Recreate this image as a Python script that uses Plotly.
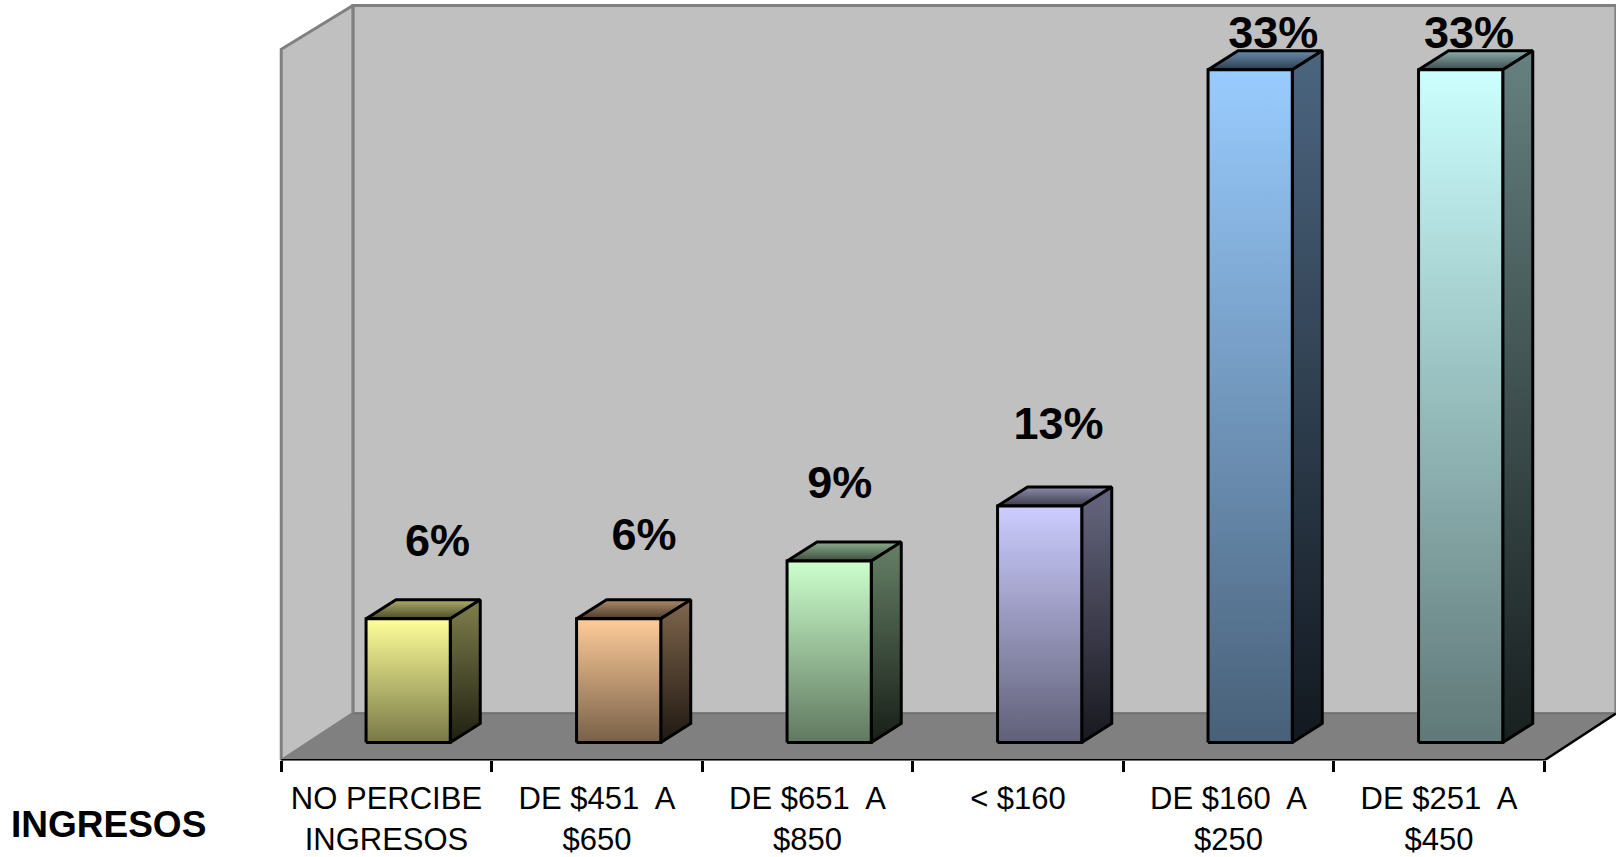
import plotly.graph_objects as go

# --- data ---
categories = ["NO PERCIBE<br>INGRESOS", "DE $451  A<br>$650", "DE $651  A<br>$850",
              "< $160", "DE $160  A<br>$250", "DE $251  A<br>$450"]
bar_heights = [6.07, 6.07, 8.9, 11.6, 33.0, 33.0]
value_labels = ["6%", "6%", "9%", "13%", "33%", "33%"]
axis_title = "INGRESOS"

# --- styles and geometry ---
bar_colors = [(255, 255, 153), (255, 204, 153), (204, 255, 204),
              (204, 204, 255), (153, 204, 255), (204, 255, 255)]
label_dx = [0.14, 0.12, 0.05, 0.09, 0.11, 0.04]   # label offset from the front-face centre (categories)
label_dy = [3.65, 3.9, 3.65, 3.85, 1.63, 1.63]    # label offset above the bar top (value units)

BAR_WIDTH = 0.40
BAR_SHIFT = 0.103
BAR_DX, BAR_DY = 0.1425, 0.93
WALL_DX, WALL_DY = 0.3405, 2.3
FLOOR_Y = -0.88
WALL_TOP_BACK = 36.15
WALL_TOP_FRONT = 34.0
EDGES = [i - 0.5 for i in range(len(categories) + 1)]
X_RANGE = [-1.836, 5.841]
Y_RANGE = [FLOOR_Y, 36.42]

W, H = 1616, 857
FLOOR_PX = 764


def scaled(c, f):
    return "rgb(%d,%d,%d)" % tuple(round(v * f) for v in c)


def poly(xs, ys, fill, line_color=None, line_width=0, gradient=None):
    tr = dict(x=xs + xs[:1], y=ys + ys[:1], mode="lines", fill="toself", hoverinfo="skip",
              showlegend=False,
              line=dict(color=line_color or "rgba(0,0,0,0)", width=line_width))
    if gradient:
        bottom, top = gradient
        tr["fillgradient"] = dict(type="vertical", colorscale=[[0, bottom], [1, top]])
    else:
        tr["fillcolor"] = fill
    return go.Scatter(**tr)


fig = go.Figure()
L, R = EDGES[0], EDGES[-1]

# floor
fig.add_trace(poly([L, R, R + WALL_DX, L + WALL_DX],
                   [FLOOR_Y, FLOOR_Y, FLOOR_Y + WALL_DY, FLOOR_Y + WALL_DY], "#808080"))
# back wall
fig.add_trace(poly([L + WALL_DX, R + WALL_DX, R + WALL_DX, L + WALL_DX],
                   [FLOOR_Y + WALL_DY, FLOOR_Y + WALL_DY, WALL_TOP_BACK, WALL_TOP_BACK],
                   "#c0c0c0", "#808080", 3))
# left wall
fig.add_trace(poly([L, L + WALL_DX, L + WALL_DX, L],
                   [FLOOR_Y, FLOOR_Y + WALL_DY, WALL_TOP_BACK, WALL_TOP_FRONT],
                   "#c0c0c0", "#808080", 3))
# seam between the back wall and the floor
fig.add_trace(go.Scatter(x=[L + WALL_DX, R + WALL_DX], y=[FLOOR_Y + WALL_DY] * 2, mode="lines",
                         line=dict(color="#707070", width=1.5), hoverinfo="skip", showlegend=False))
# edge of the floor on the right
fig.add_trace(go.Scatter(x=[R, R + WALL_DX], y=[FLOOR_Y, FLOOR_Y + WALL_DY], mode="lines",
                         line=dict(color="black", width=2.5), hoverinfo="skip", showlegend=False))

# bars
for i, (v, c) in enumerate(zip(bar_heights, bar_colors)):
    x0 = i + BAR_SHIFT - BAR_WIDTH / 2
    x1 = x0 + BAR_WIDTH
    fig.add_trace(poly([x0, x1, x1 + BAR_DX, x0 + BAR_DX], [v, v, v + BAR_DY, v + BAR_DY], None,
                       "black", 3, (scaled(c, 0.30), scaled(c, 0.68))))
    fig.add_trace(poly([x1, x1 + BAR_DX, x1 + BAR_DX, x1], [0, BAR_DY, v + BAR_DY, v], None,
                       "black", 3, (scaled(c, 0.12), scaled(c, 0.5))))
    fig.add_trace(poly([x0, x1, x1, x0], [0, 0, v, v], None,
                       "black", 3, (scaled(c, 0.47), scaled(c, 1.0))))

# value labels (on the second x axis, which carries the category labels)
fig.add_trace(go.Scatter(
    x=[i + BAR_SHIFT + d for i, d in enumerate(label_dx)],
    y=[v + d for v, d in zip(bar_heights, label_dy)],
    text=value_labels, mode="text", textposition="middle center", xaxis="x2",
    textfont=dict(family="Liberation Sans", size=45, color="black"),
    texttemplate="<b>%{text}</b>", hoverinfo="skip", showlegend=False, cliponaxis=False))

fig.update_layout(
    width=W, height=H, margin=dict(l=0, r=0, t=0, b=0),
    paper_bgcolor="white", plot_bgcolor="white", showlegend=False,
    xaxis=dict(range=X_RANGE, domain=[0, 1], anchor="y", showgrid=False, zeroline=False,
               tickmode="array", tickvals=EDGES, ticktext=[""] * len(EDGES), ticks="outside",
               ticklen=11, tickwidth=2.5, tickcolor="black"),
    xaxis2=dict(range=X_RANGE, domain=[0, 1], anchor="y", overlaying="x", side="bottom",
                showgrid=False, zeroline=False, showline=False, ticks="",
                tickmode="array", tickvals=list(range(len(categories))), ticktext=categories,
                tickangle=0, ticklabelstandoff=17,
                tickfont=dict(family="Liberation Sans", size=31, color="black")),
    yaxis=dict(range=Y_RANGE, domain=[(H - FLOOR_PX) / H, 1], visible=False),
    annotations=[dict(text="<b>%s</b>" % axis_title, xref="paper", yref="paper",
                      x=9 / W, y=(H - 828) / H, xanchor="left", yanchor="middle", showarrow=False,
                      font=dict(family="Liberation Sans", size=37, color="black"))],
    shapes=[dict(type="line", xref="x", yref="y", x0=L, x1=R, y0=FLOOR_Y, y1=FLOOR_Y,
                 line=dict(color="black", width=3))],
)

fig.write_html("out.html", config=dict(displayModeBar=False),
               post_script="document.body.style.margin='0';document.body.style.overflow='hidden';")
